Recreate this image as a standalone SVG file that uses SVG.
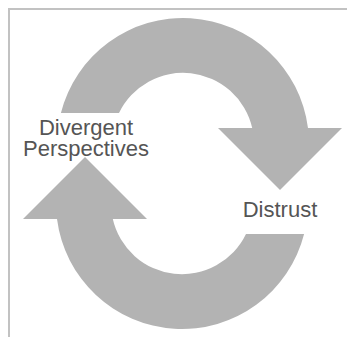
<svg xmlns="http://www.w3.org/2000/svg" width="347" height="337" viewBox="0 0 347 337">
  <style>
    .frame { fill: none; stroke: #c2c2c2; stroke-width: 2; }
    .cycle { fill: #b3b3b3; stroke: none; }
    .label { font-family: "Liberation Sans", Arial, sans-serif; font-size: 22px; fill: #555555; text-anchor: middle; }
  </style>
  <defs>
    <!-- Curved arrow: annulus segment over the top, ending in a downward head -->
    <path id="curved-arrow" d="M 60.9 113 A 126 126 0 0 1 308 128 L 342 128 L 280 190 L 218 128 L 252.2 128 A 71 71 0 0 0 119 113 Z"/>
  </defs>

  <!-- frame edges -->
  <path class="frame" d="M 9 337 L 9 9 L 347 9"/>

  <g id="connectors">
    <use href="#curved-arrow" class="cycle"/>
    <use href="#curved-arrow" class="cycle" transform="rotate(180 182.5 173.5)"/>
  </g>

  <g id="divergent-perspectives">
    <text class="label"><tspan x="86" y="135">Divergent</tspan><tspan x="86" y="155.5">Perspectives</tspan></text>
  </g>

  <g id="distrust">
    <text class="label" x="280" y="217">Distrust</text>
  </g>
</svg>
